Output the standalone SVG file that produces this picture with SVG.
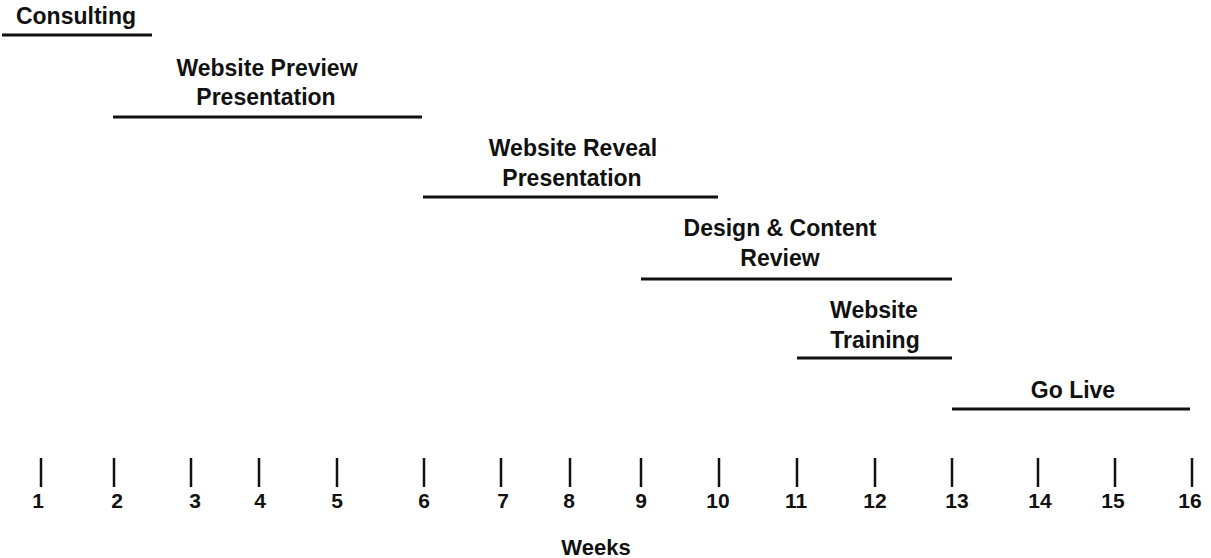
<svg xmlns="http://www.w3.org/2000/svg" width="1211" height="558" viewBox="0 0 1211 558">
<style>
.lbl{font-family:"Liberation Sans",Arial,sans-serif;font-weight:bold;font-size:23px;fill:#111;text-anchor:middle}
.num{font-family:"Liberation Sans",Arial,sans-serif;font-weight:bold;font-size:21px;fill:#111;text-anchor:middle}
.bar{stroke:#111;stroke-width:3;stroke-linecap:butt}
.tick{stroke:#111;stroke-width:2.5}
</style>
<rect width="1211" height="558" fill="#fff"/>
<g id="consulting">
<text class="lbl" x="76" y="24">Consulting</text>
<line class="bar" x1="2" y1="35" x2="152" y2="35"/>
</g>
<g id="preview">
<text class="lbl" x="267" y="76">Website Preview</text>
<text class="lbl" x="266" y="105">Presentation</text>
<line class="bar" x1="113" y1="117" x2="422" y2="117"/>
</g>
<g id="reveal">
<text class="lbl" x="573" y="156">Website Reveal</text>
<text class="lbl" x="572" y="186">Presentation</text>
<line class="bar" x1="423" y1="197" x2="718" y2="197"/>
</g>
<g id="design">
<text class="lbl" x="780" y="236">Design &amp; Content</text>
<text class="lbl" x="780" y="266">Review</text>
<line class="bar" x1="641" y1="279" x2="952" y2="279"/>
</g>
<g id="training">
<text class="lbl" x="874" y="318">Website</text>
<text class="lbl" x="875" y="348">Training</text>
<line class="bar" x1="797" y1="358" x2="952" y2="358"/>
</g>
<g id="golive">
<text class="lbl" x="1073" y="398">Go Live</text>
<line class="bar" x1="952" y1="409" x2="1190" y2="409"/>
</g>
<g id="axis">
<g class="tick">
<line x1="41" y1="458" x2="41" y2="487"/>
<line x1="114" y1="458" x2="114" y2="487"/>
<line x1="191" y1="458" x2="191" y2="487"/>
<line x1="259" y1="458" x2="259" y2="487"/>
<line x1="337" y1="458" x2="337" y2="487"/>
<line x1="424" y1="458" x2="424" y2="487"/>
<line x1="501" y1="458" x2="501" y2="487"/>
<line x1="570" y1="458" x2="570" y2="487"/>
<line x1="641" y1="458" x2="641" y2="487"/>
<line x1="719" y1="458" x2="719" y2="487"/>
<line x1="797" y1="458" x2="797" y2="487"/>
<line x1="875" y1="458" x2="875" y2="487"/>
<line x1="952" y1="458" x2="952" y2="487"/>
<line x1="1038" y1="458" x2="1038" y2="487"/>
<line x1="1115" y1="458" x2="1115" y2="487"/>
<line x1="1192" y1="458" x2="1192" y2="487"/>
</g>
<text class="num" x="38" y="508">1</text>
<text class="num" x="117" y="508">2</text>
<text class="num" x="195" y="508">3</text>
<text class="num" x="260" y="508">4</text>
<text class="num" x="337" y="508">5</text>
<text class="num" x="424" y="508">6</text>
<text class="num" x="503" y="508">7</text>
<text class="num" x="569" y="508">8</text>
<text class="num" x="641" y="508">9</text>
<text class="num" x="718" y="508">10</text>
<text class="num" x="796" y="508">11</text>
<text class="num" x="875" y="508">12</text>
<text class="num" x="957" y="508">13</text>
<text class="num" x="1040" y="508">14</text>
<text class="num" x="1113" y="508">15</text>
<text class="num" x="1190" y="508">16</text>
<text class="num" x="596" y="555" style="font-size:22px">Weeks</text>
</g>
</svg>
